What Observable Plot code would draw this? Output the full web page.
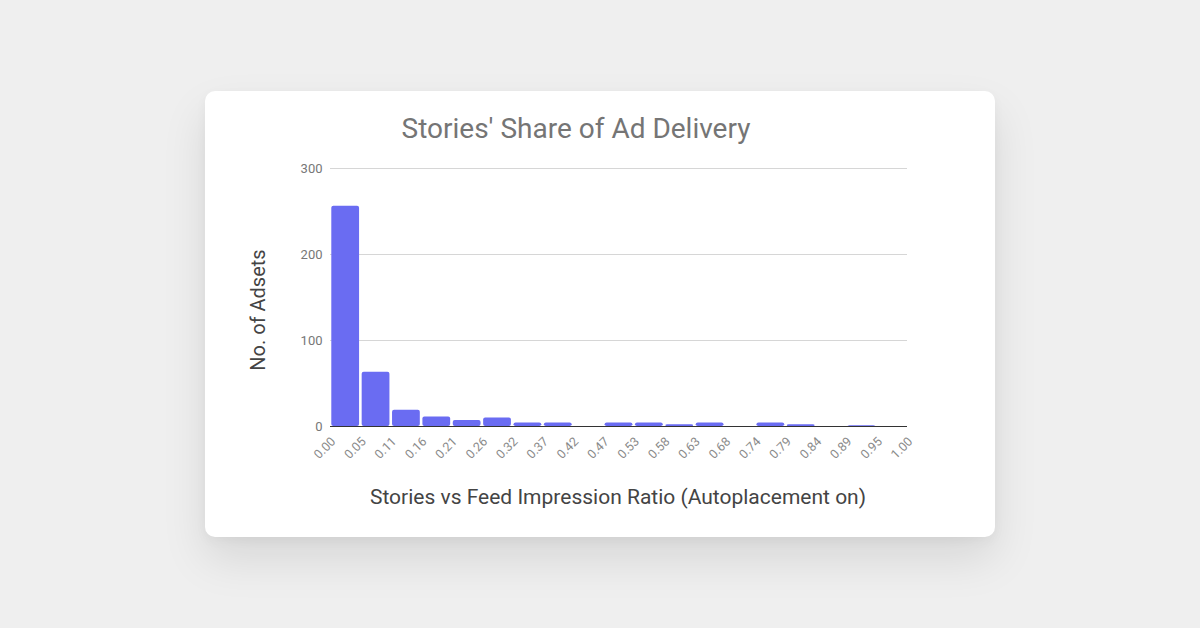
<!DOCTYPE html>
<html>
<head>
<meta charset="utf-8">
<script src="https://cdn.jsdelivr.net/npm/d3@7"></script>
<script src="https://cdn.jsdelivr.net/npm/@observablehq/plot@0.6"></script>
<style>
  html, body { margin: 0; padding: 0; }
  body { width: 1200px; height: 628px; background: #efefef; position: relative; overflow: hidden; font-family: Roboto, "Noto Sans", sans-serif; }
  #card { position: absolute; left: 205px; top: 91px; width: 790px; height: 446px; background: #fff; border-radius: 10px; box-shadow: 0 22px 45px rgba(0,0,0,0.10), 0 4px 12px rgba(0,0,0,0.04); }
  #title { position: absolute; left: 0; width: 742px; top: 21px; text-align: center; font-size: 28px; color: #757575; }
  #xtitle { position: absolute; left: 0; width: 826px; top: 394px; text-align: center; font-size: 21px; color: #444; }
  #ytitle { position: absolute; left: 53px; top: 219px; transform: translate(-50%, -50%) rotate(-90deg); font-size: 20px; color: #444; white-space: nowrap; }
  #chart { position: absolute; left: 0; top: 0; }
</style>
</head>
<body>
<div id="card">
  <div id="chart"></div>
  <div id="title">Stories' Share of Ad Delivery</div>
  <div id="ytitle">No. of Adsets</div>
  <div id="xtitle">Stories vs Feed Impression Ratio (Autoplacement on)</div>
</div>
<script>
// Bin edges (tick labels) and counts per bin
const binEdges = [0, 1/19, 2/19, 3/19, 4/19, 5/19, 6/19, 7/19, 8/19, 9/19, 10/19, 11/19, 12/19, 13/19, 14/19, 15/19, 16/19, 17/19, 18/19, 1];
const counts = [256, 63, 19, 11, 7, 10, 4, 4, 0, 4, 4, 2, 4, 0, 4, 2, 0, 1, 0];
const yTicks = [0, 100, 200, 300];

const bins = counts.map((c, i) => ({x1: binEdges[i], x2: binEdges[i + 1], count: c}));

const chart = Plot.plot({
  width: 790,
  height: 446,
  marginLeft: 125,
  marginRight: 88,
  marginTop: 77,
  marginBottom: 111,
  style: {fontFamily: "Roboto, sans-serif", background: "transparent"},
  x: {domain: [0, 1], label: null},
  y: {domain: [0, 300], label: null},
  marks: [
    Plot.gridY(yTicks, {stroke: "#d6d6d6", strokeOpacity: 1}),
    Plot.axisY(yTicks, {tickSize: 0, tickPadding: 8, fontSize: 13, fill: "#777", label: null}),
    Plot.axisX(binEdges, {tickSize: 0, tickPadding: 13, dx: 3, tickRotate: -45, tickFormat: d3.format(".2f"), fontSize: 12.5, fill: "#8a8a8a", label: null}),
    Plot.rectY(bins, {x1: "x1", x2: "x2", y: "count", fill: "#6a6cf2", insetLeft: 1.3, insetRight: 1.3, rx: 2}),
    Plot.ruleY([0], {stroke: "#333", strokeWidth: 1})
  ]
});
document.getElementById("chart").appendChild(chart);
</script>
</body>
</html>
